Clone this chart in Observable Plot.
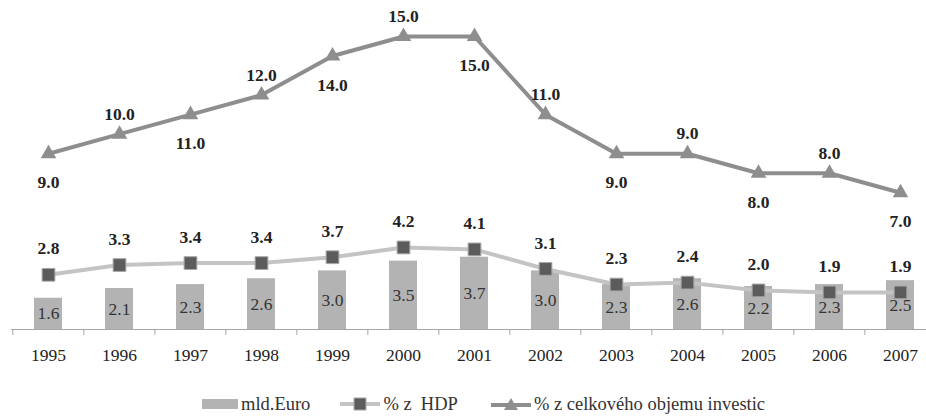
<!DOCTYPE html>
<html>
<head>
<meta charset="utf-8">
<script src="https://cdn.jsdelivr.net/npm/d3@7"></script>
<script src="https://cdn.jsdelivr.net/npm/@observablehq/plot@0.6"></script>
<style>
  html, body { margin: 0; padding: 0; background: #fff; }
  body { width: 926px; height: 416px; overflow: hidden; font-family: 'Liberation Serif', serif; }
  #legend { display: flex; align-items: center; height: 20px; margin-top: 14px; padding-left: 202px; font-size: 18.5px; color: #333; }
  #legend .item { display: flex; align-items: center; }
  #legend svg { display: block; margin-right: 3px; }
  #chart text { font-family: 'Liberation Serif', serif; }
</style>
</head>
<body>
<div id="chart"></div>
<div id="legend">
  <div class="item" style="margin-right:30px"><svg width="36" height="12"><rect x="0" y="1" width="36" height="10" fill="#b3b3b3"/></svg><span id="lg0" style="white-space:pre;font-family:'Liberation Serif'"></span></div>
  <div class="item" style="margin-right:33px"><svg width="40" height="14"><line x1="0" y1="7" x2="40" y2="7" stroke="#c4c4c4" stroke-width="4"/><rect x="14" y="1" width="12" height="12" fill="#5c5c5c" stroke="#a8a8a8"/></svg><span id="lg1" style="white-space:pre;font-family:'Liberation Serif'"></span></div>
  <div class="item"><svg width="40" height="14"><line x1="0" y1="8" x2="40" y2="8" stroke="#8e8e8e" stroke-width="4"/><path d="M20,1 L27,13 L13,13 Z" fill="#8e8e8e"/></svg><span id="lg2" style="white-space:pre;font-family:'Liberation Serif'"></span></div>
</div>
<script>
const years = [1995, 1996, 1997, 1998, 1999, 2000, 2001, 2002, 2003, 2004, 2005, 2006, 2007];
const mldEuro = [1.6, 2.1, 2.3, 2.6, 3.0, 3.5, 3.7, 3.0, 2.3, 2.6, 2.2, 2.3, 2.5];
const hdp = [2.8, 3.3, 3.4, 3.4, 3.7, 4.2, 4.1, 3.1, 2.3, 2.4, 2.0, 1.9, 1.9];
const investic = [9.0, 10.0, 11.0, 12.0, 14.0, 15.0, 15.0, 11.0, 9.0, 9.0, 8.0, 8.0, 7.0];
const seriesNames = ["mld.Euro", "% z  HDP", "% z celkového objemu investic"];

const data = years.map((y, i) => ({year: String(y), i, mld: mldEuro[i], hdp: hdp[i], inv: investic[i]}));

const W = 926, H = 380, mLeft = 11, rightEdge = 938, mTop = 36, mBottom = 51;
const step = (rightEdge - mLeft) / years.length;
const pxPerUnit = (H - mBottom - mTop) / 15;
const fmt = d3.format(".1f");
const serif = "Liberation Serif";

const chart = Plot.plot({
  width: W,
  height: H,
  marginLeft: mLeft,
  marginRight: W - rightEdge,
  marginTop: mTop,
  marginBottom: mBottom,
  style: {background: "#fff", overflow: "hidden", fontFamily: "'Liberation Serif', serif"},
  x: {type: "band", domain: years.map(String), paddingInner: 0.6, paddingOuter: 0.3, align: 0.5, axis: null},
  y: {domain: [0, 15], axis: null},
  marks: [
    Plot.barY(data, {x: "year", y: "mld", fill: "#b3b3b3"}),
    Plot.text(data, {x: "year", y: d => d.mld / 2, text: d => fmt(d.mld), fontSize: 17.5, fill: "#333", fontFamily: serif}),
    Plot.ruleY([0], {stroke: "#a6a6a6", strokeWidth: 1}),
    Plot.ruleX(data, {x: "year", y1: 0, y2: -6 / pxPerUnit, dx: -step / 2, stroke: "#a6a6a6", strokeWidth: 1}),
    Plot.axisX({tickSize: 0, tickPadding: 19, fontSize: 17.5, fill: "#222", label: null, fontFamily: serif}),
    Plot.lineY(data, {x: "year", y: "hdp", stroke: "#c4c4c4", strokeWidth: 4}),
    Plot.dot(data, {x: "year", y: "hdp", symbol: "square", r: 7.2, fill: "#5c5c5c", stroke: "#a8a8a8", strokeWidth: 1}),
    Plot.text(data, {x: "year", y: "hdp", text: d => fmt(d.hdp), dy: -26, fontSize: 17.5, fontWeight: "bold", fill: "#222", fontFamily: serif}),
    Plot.lineY(data, {x: "year", y: "inv", stroke: "#8e8e8e", strokeWidth: 4}),
    Plot.dot(data, {x: "year", y: "inv", symbol: "triangle", r: 5.8, fill: "#8e8e8e"}),
    Plot.text(data.filter(d => d.i % 2 === 1), {x: "year", y: "inv", text: d => fmt(d.inv), dy: -20, fontSize: 17.5, fontWeight: "bold", fill: "#222", fontFamily: serif}),
    Plot.text(data.filter(d => d.i % 2 === 0), {x: "year", y: "inv", text: d => fmt(d.inv), dy: 29, fontSize: 17.5, fontWeight: "bold", fill: "#222", fontFamily: serif})
  ]
});
d3.select(chart).selectAll("text").style("font-family", "'Liberation Serif', serif");
document.getElementById("chart").appendChild(chart);
seriesNames.forEach((name, k) => { document.getElementById("lg" + k).textContent = name; });
</script>
</body>
</html>
